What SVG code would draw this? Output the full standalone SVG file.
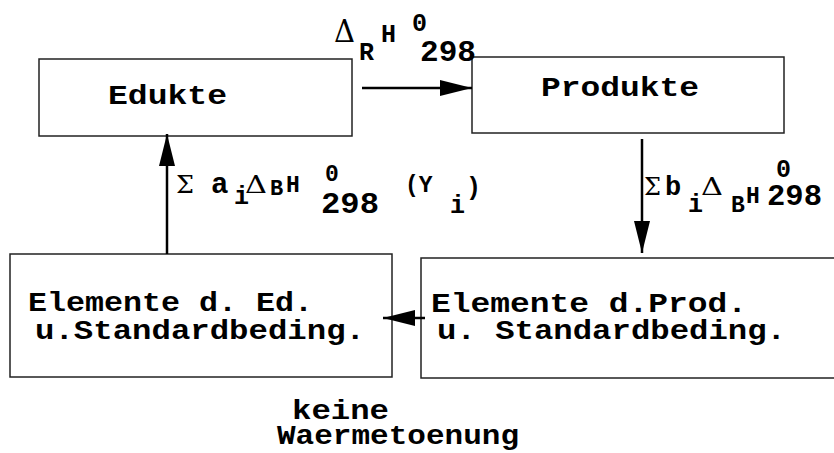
<svg xmlns="http://www.w3.org/2000/svg" width="834" height="453" viewBox="0 0 834 453">
<style>
.box{fill:#fff;stroke:#222;stroke-width:1.5}
.t{font-family:"Liberation Mono","Courier New",monospace;font-weight:bold;fill:#000}
.s{font-family:"DejaVu Serif","Liberation Serif",serif;fill:#000}
.c{stroke:#000;stroke-width:2.5;fill:none}
</style>
<defs>
<marker id="ah" markerWidth="32" markerHeight="16" refX="32" refY="8" orient="auto" markerUnits="userSpaceOnUse">
<path d="M0,0 L32,8 L0,16 Z" fill="#000"/>
</marker>
</defs>
<rect width="834" height="453" fill="#fff"/>
<g id="edukte">
<rect class="box" x="39" y="59" width="313" height="77"/>
<text class="t" x="108" y="104" font-size="28" textLength="119" lengthAdjust="spacingAndGlyphs">Edukte</text>
</g>
<g id="produkte">
<rect class="box" x="472" y="57" width="312" height="76"/>
<text class="t" x="541" y="96" font-size="28" textLength="158" lengthAdjust="spacingAndGlyphs">Produkte</text>
</g>
<g id="elemente-ed">
<rect class="box" x="10" y="254" width="382" height="123"/>
<text class="t" x="28" y="311" font-size="28" textLength="285" lengthAdjust="spacingAndGlyphs">Elemente d. Ed.</text>
<text class="t" x="35" y="339" font-size="28" textLength="330" lengthAdjust="spacingAndGlyphs">u.Standardbeding.</text>
</g>
<g id="elemente-prod">
<rect class="box" x="421" y="258" width="420" height="120"/>
<text class="t" x="431" y="312" font-size="28" textLength="316" lengthAdjust="spacingAndGlyphs">Elemente d.Prod.</text>
<text class="t" x="437" y="339" font-size="28" textLength="349" lengthAdjust="spacingAndGlyphs">u. Standardbeding.</text>
</g>
<g id="connectors">
<line class="c" x1="362" y1="88" x2="472" y2="88" marker-end="url(#ah)"/>
<line class="c" x1="642" y1="139" x2="642" y2="253" marker-end="url(#ah)"/>
<line class="c" x1="425" y1="318" x2="383" y2="318" marker-end="url(#ah)"/>
<line class="c" x1="167" y1="254" x2="167" y2="134" marker-end="url(#ah)"/>
</g>
<g id="label-top">
<text class="s" x="334" y="42" font-size="31" textLength="21" lengthAdjust="spacingAndGlyphs">Δ</text>
<text class="t" x="359" y="60" font-size="25">R</text>
<text class="t" x="381" y="42" font-size="25">H</text>
<text class="t" x="412" y="31" font-size="25">0</text>
<text class="t" x="420" y="61" font-size="29" textLength="56" lengthAdjust="spacingAndGlyphs">298</text>
</g>
<g id="label-left">
<text class="s" x="176" y="193" font-size="25" textLength="18" lengthAdjust="spacingAndGlyphs">Σ</text>
<text class="t" x="211" y="193" font-size="29">a</text>
<text class="t" x="234" y="204" font-size="25">i</text>
<text class="s" x="245" y="193" font-size="24" textLength="22" lengthAdjust="spacingAndGlyphs">Δ</text>
<text class="t" x="270" y="195" font-size="22">B</text>
<text class="t" x="286" y="192" font-size="23">H</text>
<text class="t" x="325" y="181" font-size="23">0</text>
<text class="t" x="321" y="213" font-size="29" textLength="58" lengthAdjust="spacingAndGlyphs">298</text>
<text class="t" x="405" y="192" font-size="23">(Y</text>
<text class="t" x="450" y="213" font-size="25">i</text>
<text class="t" x="466" y="195" font-size="25">)</text>
</g>
<g id="label-right">
<text class="s" x="644" y="195" font-size="25" textLength="17" lengthAdjust="spacingAndGlyphs">Σ</text>
<text class="t" x="665" y="195" font-size="27">b</text>
<text class="t" x="688" y="212" font-size="25">i</text>
<text class="s" x="701" y="195" font-size="25" textLength="22" lengthAdjust="spacingAndGlyphs">Δ</text>
<text class="t" x="731" y="212" font-size="23">B</text>
<text class="t" x="746" y="203" font-size="23">H</text>
<text class="t" x="776" y="177" font-size="25">0</text>
<text class="t" x="767" y="205" font-size="29" textLength="55" lengthAdjust="spacingAndGlyphs">298</text>
</g>
<g id="label-bottom">
<text class="t" x="292" y="419" font-size="28" textLength="97" lengthAdjust="spacingAndGlyphs">keine</text>
<text class="t" x="277" y="444" font-size="28" textLength="242" lengthAdjust="spacingAndGlyphs">Waermetoenung</text>
</g>
</svg>
